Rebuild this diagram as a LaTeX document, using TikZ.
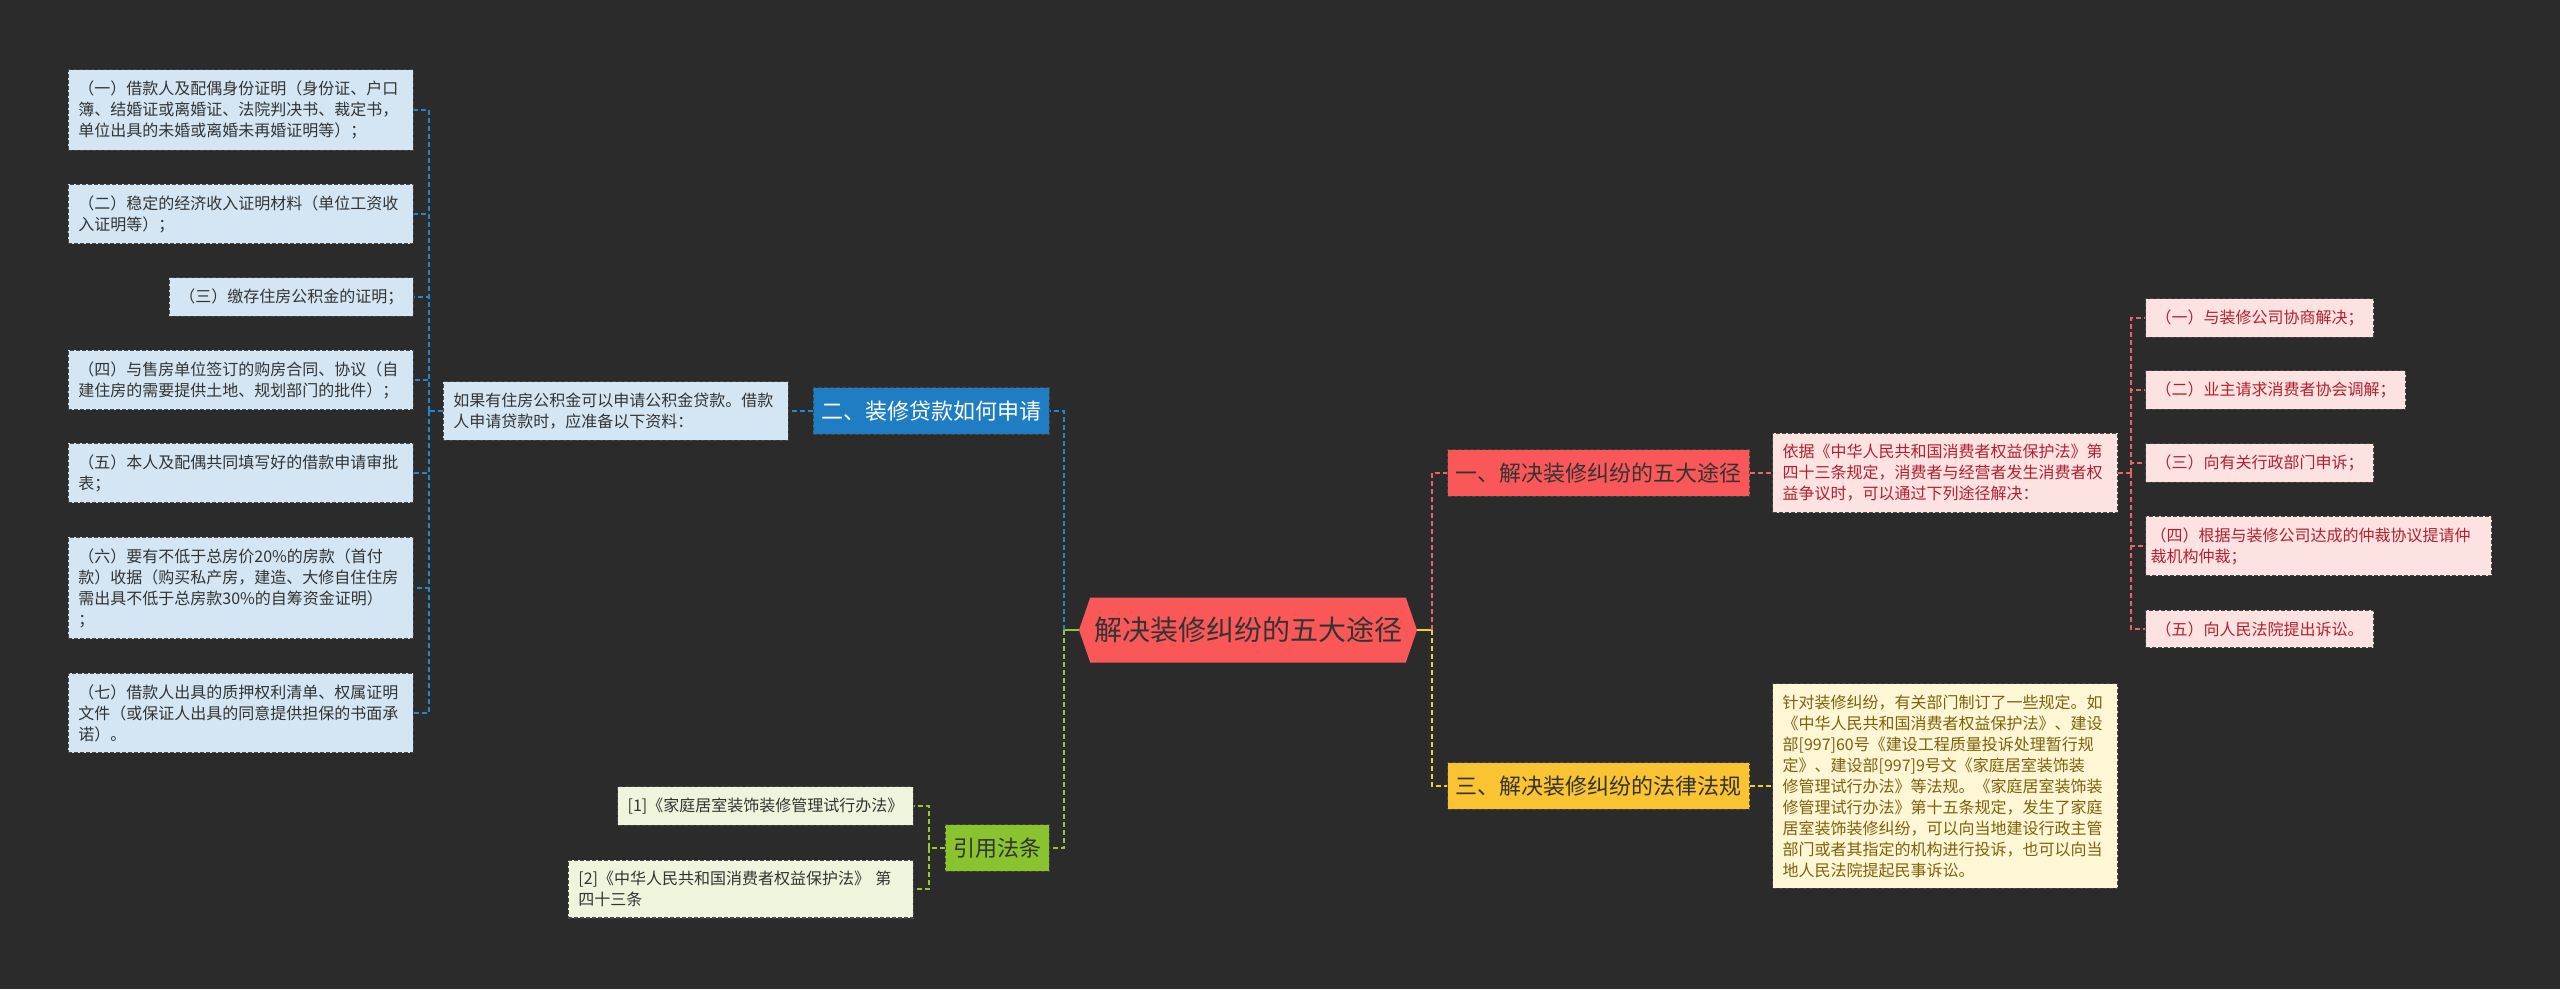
\documentclass[tikz,border=0pt]{standalone}
\usepackage{fontspec}
\setmainfont{Noto Sans CJK SC}
\usepackage{xcolor}
\usetikzlibrary{positioning,shapes.symbols}
\definecolor{canvas}{RGB}{43,43,43}
\definecolor{inkdark}{RGB}{51,51,51}
\definecolor{edge}{RGB}{70,70,70}
\definecolor{bluelight}{RGB}{212,230,244}
\definecolor{bluebranch}{RGB}{30,125,195}
\definecolor{blueline}{RGB}{38,132,205}
\definecolor{hubred}{RGB}{250,88,88}
\definecolor{redline}{RGB}{235,100,100}
\definecolor{redlight}{RGB}{253,226,226}
\definecolor{redtext}{RGB}{178,32,48}
\definecolor{yelbranch}{RGB}{250,195,50}
\definecolor{yelline}{RGB}{238,208,40}
\definecolor{yellight}{RGB}{255,246,214}
\definecolor{yeltext}{RGB}{125,98,10}
\definecolor{grnbranch}{RGB}{137,195,45}
\definecolor{grnline}{RGB}{150,200,45}
\definecolor{grnlight}{RGB}{238,245,220}

\begin{document}
\begin{tikzpicture}[
  x=1pt, y=-1pt,
  box/.style={draw=edge, dash pattern=on 4pt off 2pt, line width=1.2pt, align=left, text=inkdark,
    font=\fontsize{16}{21}\selectfont, inner xsep=10pt, inner ysep=11pt},
  wide/.style={text width=325pt},
  bluebox/.style={box, fill=bluelight},
  redbox/.style={box, fill=redlight, text=redtext},
  yelbox/.style={box, fill=yellight, text=yeltext},
  grnbox/.style={box, fill=grnlight},
  branch/.style={draw=edge, dash pattern=on 4pt off 2pt, line width=1.2pt, text=inkdark,
    font=\fontsize{22}{26}\selectfont, inner xsep=8pt, inner ysep=13pt},
  bigbranch/.style={branch, minimum width=296pt},
  hub/.style={signal, signal to=west and east, signal pointer angle=142, fill=hubred, text=inkdark,
    font=\fontsize{28}{32}\selectfont, minimum width=338pt, minimum height=65pt, inner sep=0pt},
  link/.style={line width=2pt, dash pattern=on 5pt off 3pt}
]
\fill[canvas] (0,0) rectangle (2560,989);

% centre
\node[hub] (root) at (1248,630) {解决装修纠纷的五大途径};

% left: loan documents
\node[branch, fill=bluebranch, text=white, anchor=east] (b2) at (1050,411) {二、装修贷款如何申请};
\node[bluebox, wide, anchor=east] (p) at (789,411) {如果有住房公积金可以申请公积金贷款。借款\\人申请贷款时，应准备以下资料：};
\node[bluebox, wide, anchor=east] (c1) at (414,110) {（一）借款人及配偶身份证明（身份证、户口\\簿、结婚证或离婚证、法院判决书、裁定书，\\单位出具的未婚或离婚未再婚证明等）；};
\node[bluebox, wide, anchor=east] (c2) at (414,214) {（二）稳定的经济收入证明材料（单位工资收\\入证明等）；};
\node[bluebox, anchor=east] (c3) at (414,297) {（三）缴存住房公积金的证明；};
\node[bluebox, wide, anchor=east] (c4) at (414,380) {（四）与售房单位签订的购房合同、协议（自\\建住房的需要提供土地、规划部门的批件）；};
\node[bluebox, wide, anchor=east] (c5) at (414,473) {（五）本人及配偶共同填写好的借款申请审批\\表；};
\node[bluebox, wide, anchor=east] (c6) at (414,588) {（六）要有不低于总房价20\%的房款（首付\\款）收据（购买私产房，建造、大修自住住房\\需出具不低于总房款30\%的自筹资金证明）\\；};
\node[bluebox, wide, anchor=east] (c7) at (414,713) {（七）借款人出具的质押权利清单、权属证明\\文件（或保证人出具的同意提供担保的书面承\\诺）。};

% left: cited laws
\node[branch, fill=grnbranch, anchor=east] (cite) at (1050,848) {引用法条};
\node[grnbox, anchor=east] (ref1) at (914,806) {[1]《家庭居室装饰装修管理试行办法》};
\node[grnbox, wide, anchor=east] (ref2) at (914,889) {[2]《中华人民共和国消费者权益保护法》 第\\四十三条};

% right: five ways
\node[bigbranch, fill=hubred, anchor=west] (r) at (1447,473) {一、解决装修纠纷的五大途径};
\node[redbox, wide, anchor=west] (rdesc) at (1772,473) {依据《中华人民共和国消费者权益保护法》第\\四十三条规定，消费者与经营者发生消费者权\\益争议时，可以通过下列途径解决：};
\node[redbox, anchor=west] (w1) at (2145,318) {（一）与装修公司协商解决；};
\node[redbox, anchor=west] (w2) at (2145,390) {（二）业主请求消费者协会调解；};
\node[redbox, anchor=west] (w3) at (2145,463) {（三）向有关行政部门申诉；};
\node[redbox, text width=336pt, inner xsep=5pt, anchor=west] (w4) at (2145,546) {（四）根据与装修公司达成的仲裁协议提请仲\\裁机构仲裁；};
\node[redbox, anchor=west] (w5) at (2145,629) {（五）向人民法院提出诉讼。};

% right: laws and rules
\node[bigbranch, fill=yelbranch, anchor=west] (y) at (1447,786) {三、解决装修纠纷的法律法规};
\node[yelbox, wide, anchor=west] (ydesc) at (1772,786) {针对装修纠纷，有关部门制订了一些规定。如\\《中华人民共和国消费者权益保护法》、建设\\部[997]60号《建设工程质量投诉处理暂行规\\定》、建设部[997]9号文《家庭居室装饰装\\修管理试行办法》等法规。《家庭居室装饰装\\修管理试行办法》第十五条规定，发生了家庭\\居室装饰装修纠纷，可以向当地建设行政主管\\部门或者其指定的机构进行投诉，也可以向当\\地人民法院提起民事诉讼。};

% junctions
\coordinate (lj) at (1064,630);
\coordinate (rj) at (1432,630);
\coordinate (pj) at (429,411);
\coordinate (gj) at (929,848);
\coordinate (dj) at (2131,473);

% connectors
\draw[grnline, line width=2pt] (root.west) -- (lj);
\draw[yelline, line width=2pt] (root.east) -- (rj);
\draw[link, blueline] (lj) |- (b2.east);
\draw[link, grnline] (lj) |- (cite.east);
\draw[link, blueline] (b2.west) -- (p.east);
\draw[link, blueline] (p.west) -- (pj);
\foreach \i in {1,...,7} \draw[link, blueline] (pj) |- (c\i.east);
\draw[link, grnline] (cite.west) -- (gj);
\foreach \i in {1,2} \draw[link, grnline] (gj) |- (ref\i.east);
\draw[link, redline] (rj) |- (r.west);
\draw[link, yelline] (rj) |- (y.west);
\draw[link, redline] (r.east) -- (rdesc.west);
\draw[link, yelline] (y.east) -- (ydesc.west);
\draw[link, redline] (rdesc.east) -- (dj);
\foreach \i in {1,...,5} \draw[link, redline] (dj) |- (w\i.west);
\end{tikzpicture}
\end{document}
